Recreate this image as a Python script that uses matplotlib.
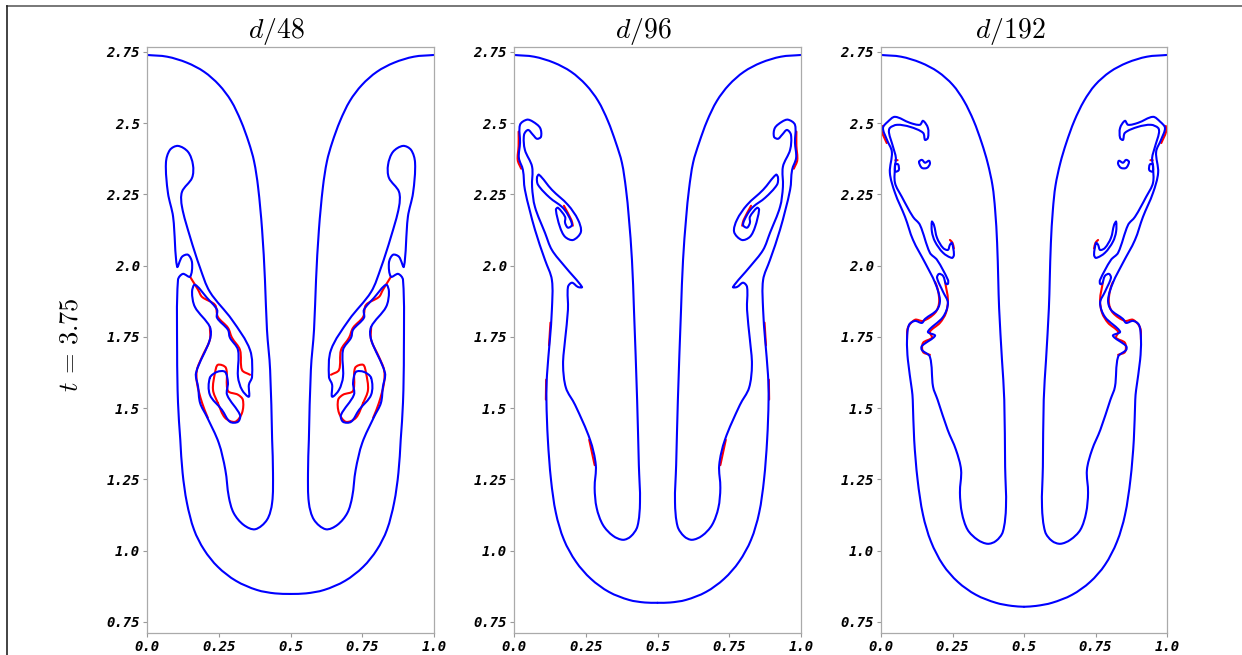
#!/usr/bin/env python3
"""Interface contours at t = 3.75 for three grid resolutions."""

import numpy as np
import matplotlib
matplotlib.use("Agg")
import matplotlib.pyplot as plt
from matplotlib.lines import Line2D
from matplotlib.patches import PathPatch
from matplotlib.path import Path

plt.rcParams["mathtext.fontset"] = "cm"

# Panel labels and ticks
TITLES = ["$d/48$", "$d/96$", "$d/192$"]
X_TICKS = [0.0, 0.25, 0.5, 0.75, 1.0]
X_LABELS = ["0.0", "0.25", "0.5", "0.75", "1.0"]
Y_TICKS = [0.75, 1.0, 1.25, 1.5, 1.75, 2.0, 2.25, 2.5, 2.75]
Y_LABELS = ["0.75", "1.0", "1.25", "1.5", "1.75", "2.0", "2.25", "2.5", "2.75"]

# Contours, left half only (the flow is symmetric about x = 0.5)
# d/48
D48_BLUE_MAIN = [
    (0.000, 2.739), (0.070, 2.733), (0.139, 2.712), (0.199, 2.680), (0.251, 2.634),
    (0.293, 2.578), (0.327, 2.508), (0.355, 2.431), (0.373, 2.366), (0.387, 2.276),
    (0.401, 2.126), (0.411, 1.950), (0.418, 1.775), (0.429, 1.634), (0.436, 1.389),
    (0.439, 1.273), (0.436, 1.168), (0.418, 1.108), (0.377, 1.075), (0.337, 1.090),
    (0.302, 1.132), (0.285, 1.189), (0.273, 1.283), (0.250, 1.378),
    (0.209, 1.469), (0.185, 1.518), (0.178, 1.575), (0.171, 1.624), (0.219, 1.740),
    (0.219, 1.785), (0.167, 1.855), (0.157, 1.908), (0.167, 1.933), (0.209, 1.887),
    (0.244, 1.845), (0.244, 1.817), (0.282, 1.775), (0.289, 1.747), (0.317, 1.704),
    (0.317, 1.610), (0.331, 1.564), (0.355, 1.540), (0.355, 1.582), (0.366, 1.610),
    (0.359, 1.704), (0.296, 1.810), (0.219, 1.908), (0.185, 1.992), (0.150, 2.101),
    (0.122, 2.206), (0.122, 2.259), (0.157, 2.308), (0.160, 2.354), (0.143, 2.399),
    (0.108, 2.420), (0.080, 2.406), (0.066, 2.361), (0.073, 2.255), (0.091, 2.171),
    (0.105, 1.996), (0.122, 2.031), (0.143, 2.038), (0.157, 2.010), (0.150, 1.961),
    (0.125, 1.971), (0.108, 1.950), (0.105, 1.694), (0.108, 1.520), (0.116, 1.389),
    (0.124, 1.273), (0.139, 1.168), (0.164, 1.073), (0.199, 1.003), (0.247, 0.943),
    (0.310, 0.894), (0.383, 0.862), (0.446, 0.850), (0.500, 0.848),
]
D48_BLUE_ISLAND = [
    (0.219, 1.606), (0.244, 1.627), (0.272, 1.627), (0.282, 1.589), (0.279, 1.547),
    (0.324, 1.476), (0.317, 1.452), (0.289, 1.452), (0.261, 1.494), (0.219, 1.547),
    (0.219, 1.606),
]
D48_RED = [
    [(0.150, 1.961), (0.178, 1.915), (0.192, 1.890), (0.237, 1.862), (0.247, 1.820),
     (0.282, 1.782), (0.296, 1.747), (0.324, 1.704), (0.331, 1.634), (0.359, 1.617)],
    [(0.219, 1.785), (0.219, 1.740), (0.192, 1.680), (0.174, 1.634), (0.174, 1.589),
     (0.192, 1.518), (0.212, 1.466)],
    [(0.247, 1.518), (0.272, 1.466), (0.307, 1.452), (0.331, 1.483), (0.334, 1.529),
     (0.317, 1.547), (0.282, 1.561), (0.275, 1.641), (0.247, 1.652), (0.237, 1.624),
     (0.230, 1.564), (0.247, 1.518)],
]

# d/96
D96_BLUE_MAIN = [
    (0.000, 2.739), (0.070, 2.733), (0.139, 2.712), (0.199, 2.680), (0.251, 2.634),
    (0.293, 2.578), (0.327, 2.508), (0.355, 2.431), (0.376, 2.361), (0.390, 2.270),
    (0.400, 2.170), (0.411, 2.020), (0.418, 1.845), (0.429, 1.529), (0.435, 1.300),
    (0.439, 1.170), (0.430, 1.085), (0.407, 1.050), (0.380, 1.038), (0.345, 1.052),
    (0.310, 1.090), (0.288, 1.150), (0.281, 1.220), (0.285, 1.300), (0.265, 1.389),
    (0.213, 1.511), (0.181, 1.571), (0.171, 1.652), (0.178, 1.740), (0.188, 1.845),
    (0.188, 1.925), (0.202, 1.940), (0.223, 1.925), (0.237, 1.925), (0.178, 1.996),
    (0.132, 2.055), (0.108, 2.115), (0.073, 2.206), (0.063, 2.276), (0.063, 2.347),
    (0.038, 2.406), (0.035, 2.459), (0.049, 2.476), (0.066, 2.459), (0.080, 2.445),
    (0.094, 2.452), (0.091, 2.483), (0.066, 2.505), (0.045, 2.512), (0.021, 2.494),
    (0.021, 2.431), (0.017, 2.378), (0.031, 2.336), (0.038, 2.266), (0.073, 2.126),
    (0.108, 2.020), (0.132, 1.950), (0.132, 1.845), (0.125, 1.740), (0.115, 1.617),
    (0.113, 1.529), (0.118, 1.389), (0.129, 1.248), (0.146, 1.132), (0.174, 1.038),
    (0.216, 0.961), (0.268, 0.901), (0.331, 0.855), (0.401, 0.827), (0.456, 0.818),
    (0.500, 0.817),
]
D96_BLUE_ISLAND = [
    (0.080, 2.308), (0.087, 2.319), (0.132, 2.266), (0.188, 2.213), (0.223, 2.161),
    (0.233, 2.118), (0.206, 2.090), (0.178, 2.101), (0.160, 2.136), (0.146, 2.196),
    (0.153, 2.203), (0.178, 2.171), (0.178, 2.150), (0.188, 2.133), (0.202, 2.143),
    (0.188, 2.178), (0.167, 2.206), (0.125, 2.238), (0.084, 2.283), (0.080, 2.308),
]
D96_RED = [
    [(0.016, 2.470), (0.016, 2.420), (0.013, 2.370), (0.025, 2.340)],
    [(0.174, 2.210), (0.200, 2.160), (0.205, 2.140)],
    [(0.127, 1.800), (0.122, 1.720)],
    [(0.112, 1.600), (0.111, 1.530)],
    [(0.262, 1.389), (0.281, 1.300)],
]

# d/192
D192_BLUE_MAIN = [
    (0.000, 2.739), (0.070, 2.733), (0.139, 2.712), (0.199, 2.680), (0.251, 2.634),
    (0.290, 2.578), (0.324, 2.508), (0.352, 2.431), (0.373, 2.360), (0.390, 2.280),
    (0.399, 2.196), (0.406, 2.080), (0.410, 1.950), (0.413, 1.850), (0.423, 1.669),
    (0.431, 1.529), (0.434, 1.294),
    (0.437, 1.154), (0.426, 1.066), (0.402, 1.034), (0.373, 1.024), (0.338, 1.038),
    (0.303, 1.073), (0.283, 1.132), (0.276, 1.203), (0.280, 1.283), (0.262, 1.354),
    (0.233, 1.424), (0.198, 1.529), (0.182, 1.575), (0.171, 1.680), (0.143, 1.704),
    (0.143, 1.718), (0.189, 1.754), (0.164, 1.768), (0.217, 1.820), (0.234, 1.869),
    (0.217, 1.908), (0.196, 1.957), (0.203, 1.971), (0.217, 1.964), (0.227, 1.936),
    (0.234, 1.936), (0.234, 1.950), (0.196, 2.020), (0.171, 2.045), (0.136, 2.143),
    (0.112, 2.171), (0.073, 2.241), (0.049, 2.290), (0.049, 2.347), (0.052, 2.378),
    (0.042, 2.417), (0.028, 2.466), (0.031, 2.483), (0.056, 2.494), (0.101, 2.487),
    (0.147, 2.466), (0.154, 2.441), (0.164, 2.448), (0.164, 2.483), (0.147, 2.508),
    (0.136, 2.494), (0.101, 2.501), (0.049, 2.522), (0.024, 2.505), (0.007, 2.483),
    (0.021, 2.441), (0.038, 2.399), (0.031, 2.326), (0.049, 2.255), (0.084, 2.171),
    (0.112, 2.090), (0.154, 2.010), (0.189, 1.940), (0.206, 1.880), (0.196, 1.845),
    (0.154, 1.813), (0.143, 1.799), (0.119, 1.806), (0.098, 1.792), (0.091, 1.740),
    (0.094, 1.669), (0.108, 1.564), (0.111, 1.529), (0.116, 1.389), (0.128, 1.248),
    (0.147, 1.125), (0.175, 1.031), (0.217, 0.950), (0.269, 0.890), (0.332, 0.845),
    (0.402, 0.817), (0.458, 0.806), (0.500, 0.803),
]
D192_BLUE_BEAN = [
    (0.133, 2.364), (0.143, 2.371), (0.154, 2.361), (0.168, 2.368), (0.171, 2.357),
    (0.161, 2.343), (0.143, 2.343), (0.133, 2.364),
]
D192_BLUE_DOT = [
    (0.050, 2.355), (0.060, 2.355), (0.062, 2.335), (0.050, 2.330), (0.050, 2.355),
]
D192_BLUE_STREAK = [
    (0.178, 2.154), (0.185, 2.143), (0.196, 2.097), (0.217, 2.062), (0.234, 2.055),
    (0.241, 2.073), (0.248, 2.080), (0.255, 2.038), (0.248, 2.027), (0.217, 2.045),
    (0.189, 2.084), (0.178, 2.119), (0.178, 2.154),
]
D192_RED = [
    [(0.091, 1.740), (0.094, 1.782), (0.119, 1.810), (0.147, 1.806), (0.189, 1.834),
     (0.203, 1.869), (0.199, 1.915), (0.189, 1.943)],
    [(0.224, 1.943), (0.234, 1.880), (0.227, 1.834), (0.206, 1.799), (0.171, 1.768),
     (0.178, 1.747), (0.147, 1.729), (0.147, 1.697), (0.171, 1.687)],
    [(0.241, 2.090), (0.250, 2.080), (0.255, 2.060)],
    [(0.004, 2.490), (0.003, 2.470), (0.020, 2.430)],
    [(0.050, 2.370), (0.058, 2.370)],
]

PANELS = [
    ([D48_BLUE_MAIN, D48_BLUE_ISLAND], D48_RED),
    ([D96_BLUE_MAIN, D96_BLUE_ISLAND], D96_RED),
    ([D192_BLUE_MAIN, D192_BLUE_BEAN, D192_BLUE_DOT, D192_BLUE_STREAK], D192_RED),
]

# Axes boxes in pixels: left, right
AXES_PX = [(147, 434), (514, 801), (881, 1167)]
FIG_W, FIG_H = 1242, 655
AX_TOP, AX_BOTTOM = 47, 633


def bezier_path(pts):
    """Path through the read points, with Bezier handles from the neighbouring points."""
    p = np.array(pts, dtype=float)
    closed = np.allclose(p[0], p[-1]) and len(p) > 3
    n = len(p)
    verts = [p[0]]
    codes = [Path.MOVETO]
    for i in range(n - 1):
        a = p[i - 1] if i > 0 else (p[n - 2] if closed else p[i])
        b, c = p[i], p[i + 1]
        d = p[i + 2] if i + 2 < n else (p[1] if closed else p[i + 1])
        seg = np.linalg.norm(c - b)
        t1 = (c - a) / max(np.linalg.norm(b - a) + seg, 1e-9)
        t2 = (d - b) / max(np.linalg.norm(d - c) + seg, 1e-9)
        verts += [b + t1 * seg / 3, c - t2 * seg / 3, c]
        codes += [Path.CURVE4] * 3
    return Path(verts, codes)


def draw_curve(ax, pts, color):
    """Draw a half contour and its mirror image."""
    mirrored = [(1 - x, y) for x, y in pts]
    for curve in (pts, mirrored):
        ax.add_patch(PathPatch(bezier_path(curve), fill=False, edgecolor=color, lw=1.5,
                               joinstyle="round", capstyle="round"))


def main():
    fig = plt.figure(figsize=(FIG_W / 100, FIG_H / 100), dpi=100, facecolor="white")

    # Outer frame: only the top and left edges are in the picture
    top = 1 - 5.5 / FIG_H
    fig.add_artist(Line2D([7 / FIG_W, 1], [top, top], color="#777777", lw=1.4,
                          transform=fig.transFigure))
    fig.add_artist(Line2D([7 / FIG_W, 7 / FIG_W], [0, top], color="#222222", lw=1.2,
                          transform=fig.transFigure))

    for (left, right), title, (blues, reds) in zip(AXES_PX, TITLES, PANELS):
        ax = fig.add_axes([
            left / FIG_W,
            1 - AX_BOTTOM / FIG_H,
            (right - left) / FIG_W,
            (AX_BOTTOM - AX_TOP) / FIG_H,
        ])
        for pts in reds:
            draw_curve(ax, pts, "#ff0000")
        for pts in blues:
            draw_curve(ax, pts, "#0000ff")

        ax.set_xlim(0, 1)
        ax.set_ylim(0.711, 2.767)
        ax.set_xticks(X_TICKS, X_LABELS)
        ax.set_yticks(Y_TICKS, Y_LABELS)
        ax.tick_params(axis="both", length=3, width=0.8, color="#999999", pad=2)
        for lab in ax.get_xticklabels() + ax.get_yticklabels():
            lab.set_fontfamily("DejaVu Sans Mono")
            lab.set_fontweight("bold")
            lab.set_fontstyle("oblique")
            lab.set_fontsize(10)
        for spine in ax.spines.values():
            spine.set_color("#aaaaaa")
            spine.set_linewidth(0.9)
        ax.set_title(title, fontsize=20, x=0.451, pad=5)

    fig.text(70 / FIG_W, 1 - 345 / FIG_H, "$t\\,=\\,3.75$", rotation=90,
             fontsize=19, ha="center", va="center")

    fig.savefig("out.png", dpi=100, facecolor="white")


if __name__ == "__main__":
    main()
